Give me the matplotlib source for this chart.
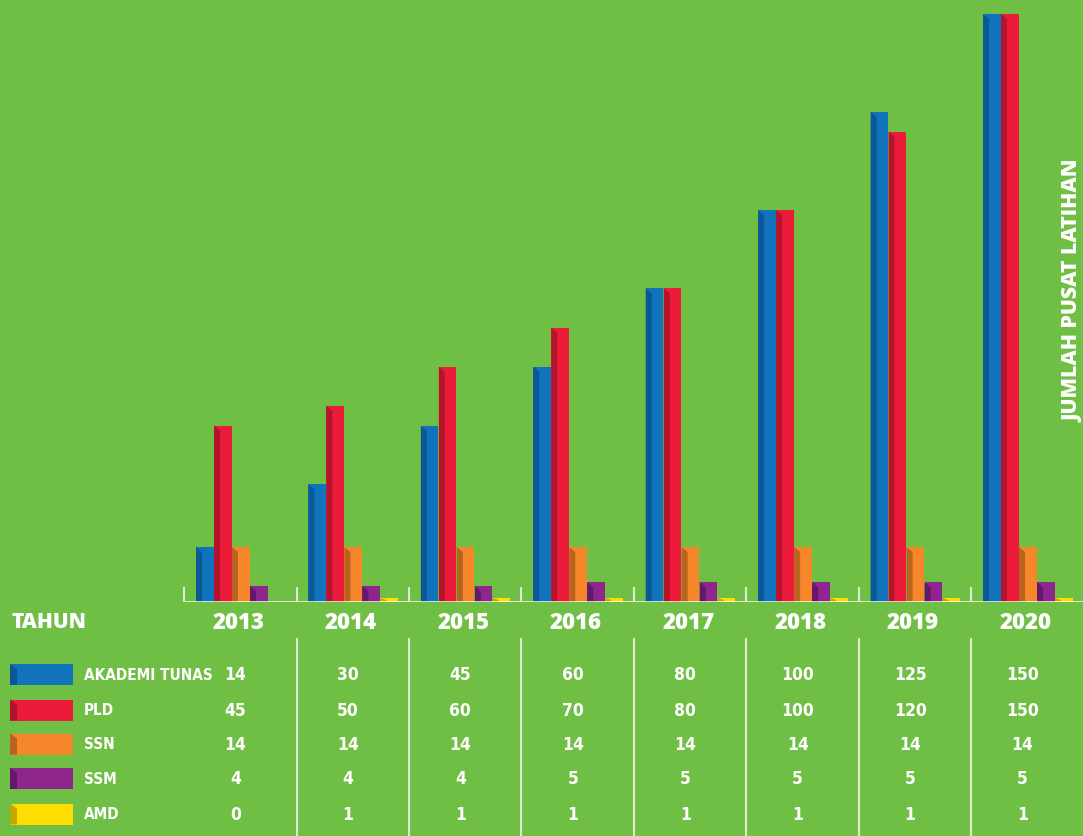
import matplotlib
matplotlib.use("Agg")
import matplotlib.pyplot as plt
from matplotlib.patches import Rectangle, Polygon
from matplotlib import transforms, font_manager
from matplotlib.font_manager import FontProperties

years = ["2013", "2014", "2015", "2016", "2017", "2018", "2019", "2020"]
series = ["AKADEMI TUNAS", "PLD", "SSN", "SSM", "AMD"]
akademi = [14, 30, 45, 60, 80, 100, 125, 150]
pld = [45, 50, 60, 70, 80, 100, 120, 150]
ssn = [14, 14, 14, 14, 14, 14, 14, 14]
ssm = [4, 4, 4, 5, 5, 5, 5, 5]
amd = [0, 1, 1, 1, 1, 1, 1, 1]
values = [akademi, pld, ssn, ssm, amd]

light = ["#1173bc", "#ed1b3a", "#f6862a", "#8f268e", "#ffdd00"]
dark = ["#0c5896", "#b3142c", "#b8641e", "#65176a", "#c2a800"]
bg = "#70bf45"

fl = font_manager.fontManager.ttflist


def pick(name, weight=700, stretch="normal"):
    for f in fl:
        if (f.name == name and f.weight in (weight, str(weight))
                and f.style == "normal" and f.stretch == stretch):
            return f.fname
    if weight == 700:
        for f in fl:
            if (f.name == name and f.weight == "bold"
                    and f.style == "normal" and f.stretch == stretch):
                return f.fname
    return None


bold_file = pick("Open Sans", 800)
if not bold_file:
    for nm in ("Open Sans", "Lato", "Roboto", "DejaVu Sans"):
        bold_file = pick(nm)
        if bold_file:
            break


def boldfp(size):
    if bold_file:
        return FontProperties(fname=bold_file, size=size)
    return FontProperties(family="DejaVu Sans", weight="bold", size=size)


narrow_file = pick("Liberation Sans Narrow") or pick("DejaVu Sans", stretch="condensed")


def narrowfp(size):
    if narrow_file:
        return FontProperties(fname=narrow_file, size=size)
    return FontProperties(family="DejaVu Sans", weight="bold", size=size)


W, H = 1083, 837
fig = plt.figure(figsize=(W / 100, H / 100), dpi=100, facecolor=bg)

# pixel geometry
base_px = 603
px_per_unit = 3.92
grp_px = 112.43
first_px = 196
bar_w_px = 17.6
step_px = 18.0

ax = fig.add_axes([0, (H - base_px) / H, 1, base_px / H])
ax.set_facecolor(bg)
ax.set_xlim(-first_px / grp_px, (W - first_px) / grp_px)
ax.set_ylim(0, base_px / px_per_unit)
ax.axis("off")

bw = bar_w_px / grp_px
st = step_px / grp_px
dw = 6.0 / grp_px
k = 5.0 / px_per_unit

for s, vals in enumerate(values):
    for i, v in enumerate(vals):
        if v <= 0:
            continue
        x0 = i + s * st
        ax.add_patch(Rectangle((x0, 0), bw, v, facecolor=light[s], edgecolor="none", zorder=2))
        kk = min(k, v * 0.5)
        ax.add_patch(Polygon([(x0, 0), (x0, v), (x0 + dw, v - kk), (x0 + dw, 0)],
                             closed=True, facecolor=dark[s], edgecolor="none", zorder=3))

# baseline and ticks
tick_off = -0.105
ax.plot([tick_off, (W - first_px) / grp_px], [0, 0], color="white", lw=1.8, zorder=4,
        solid_capstyle="butt")
for i in range(len(years)):
    ax.plot([i + tick_off, i + tick_off], [0, 14 / px_per_unit], color="#e6f2dc", lw=1.5,
            zorder=4, alpha=0.9)

ax.text(1.0 - 9.5 / W, 1 - 291 / base_px, "JUMLAH PUSAT LATIHAN", transform=ax.transAxes,
        rotation=90, ha="center", va="center", color="white", fontproperties=boldfp(15.3))

# table area in pixel coordinates
axt = fig.add_axes([0, 0, 1, (H - base_px) / H])
axt.set_xlim(0, W)
axt.set_ylim(H, base_px)
axt.axis("off")
blend = transforms.blended_transform_factory(ax.transData, axt.transData)

label_off = 42.5 / grp_px
axt.text(12, 623, "TAHUN", ha="left", va="center", color="white", fontproperties=boldfp(15))
for i, y in enumerate(years):
    axt.text(i + label_off, 623, y, transform=blend, ha="center", va="center", color="white",
             fontproperties=boldfp(16))

# vertical table lines
for i in range(1, len(years)):
    axt.plot([i + tick_off, i + tick_off], [640, H], transform=blend, color="#e6f2dc",
             lw=1.5, alpha=0.9)

row_y = [675.5, 711, 745, 779.5, 815]
for s, name in enumerate(series):
    yc = row_y[s]
    axt.add_patch(Rectangle((10, yc - 10.5), 63, 21, facecolor=light[s], edgecolor="none"))
    axt.add_patch(Polygon([(10, yc - 10.5), (17, yc - 5.5), (17, yc + 10.5), (10, yc + 10.5)],
                          closed=True, facecolor=dark[s], edgecolor="none"))
    axt.text(84, yc, name, ha="left", va="center", color="white", fontproperties=narrowfp(11))
    for i, v in enumerate(values[s]):
        axt.text(i + label_off - 3 / grp_px, yc, str(v), transform=blend, ha="center",
                 va="center", color="white", fontproperties=narrowfp(12.5))

fig.savefig("out.png", dpi=100, facecolor=bg)
